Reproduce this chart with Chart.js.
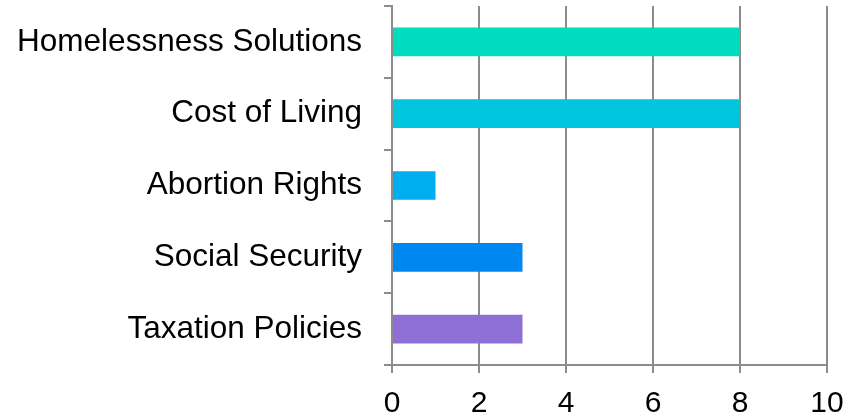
<!DOCTYPE html>
<html>
<head>
<meta charset="utf-8">
<script src="https://cdn.jsdelivr.net/npm/chart.js@4/dist/chart.umd.min.js"></script>
<style>
  html, body { margin: 0; padding: 0; background: #fff; }
  #wrap { width: 849px; height: 419px; }
</style>
</head>
<body>
<div id="wrap"><canvas id="chart" width="849" height="419"></canvas></div>
<script>
// data
var categories = ['Homelessness Solutions', 'Cost of Living', 'Abortion Rights', 'Social Security', 'Taxation Policies'];
var values = [8, 8, 1, 3, 3];
var barColors = ['#00DCBE', '#00C5DD', '#00AEEF', '#0088F0', '#8E6FD6'];
var xTicks = [0, 2, 4, 6, 8, 10];

var axisGray = '#8c8c8c';
var fontFamily = 'Liberation Sans, Arial, sans-serif';

var chart = new Chart(document.getElementById('chart'), {
    type: 'bar',
    data: {
        labels: categories,
        datasets: [{
            data: values,
            backgroundColor: barColors,
            borderWidth: 0,
            categoryPercentage: 1,
            barPercentage: 0.4
        }]
    },
    options: {
        indexAxis: 'y',
        responsive: false,
        animation: false,
        layout: { padding: { top: 6, right: 22, left: 0, bottom: 0 } },
        plugins: { legend: { display: false }, tooltip: { enabled: false } },
        scales: {
            x: {
                min: 0,
                max: 10,
                afterBuildTicks: function (scale) {
                    scale.ticks = xTicks.map(function (v) { return { value: v }; });
                },
                grid: { color: axisGray, lineWidth: 2, tickLength: 8, drawTicks: true },
                border: { color: axisGray, width: 2 },
                ticks: { color: '#000', font: { family: fontFamily, size: 30 }, padding: 13, maxRotation: 0 },
                afterFit: function (scale) {
                    scale.height = 54;
                    scale.paddingLeft = 0;
                    scale.paddingRight = 0;
                }
            },
            y: {
                grid: { offset: true, drawOnChartArea: false, color: axisGray, lineWidth: 2, tickLength: 8 },
                border: { color: axisGray, width: 2 },
                ticks: { color: '#000', font: { family: fontFamily, size: 31.5 }, padding: 22 },
                afterFit: function (scale) {
                    scale.width = 392;
                    // keep the label padding from pushing the plot down
                    scale.paddingTop = 0;
                    scale.paddingBottom = 0;
                }
            }
        }
    }
});
</script>
</body>
</html>
